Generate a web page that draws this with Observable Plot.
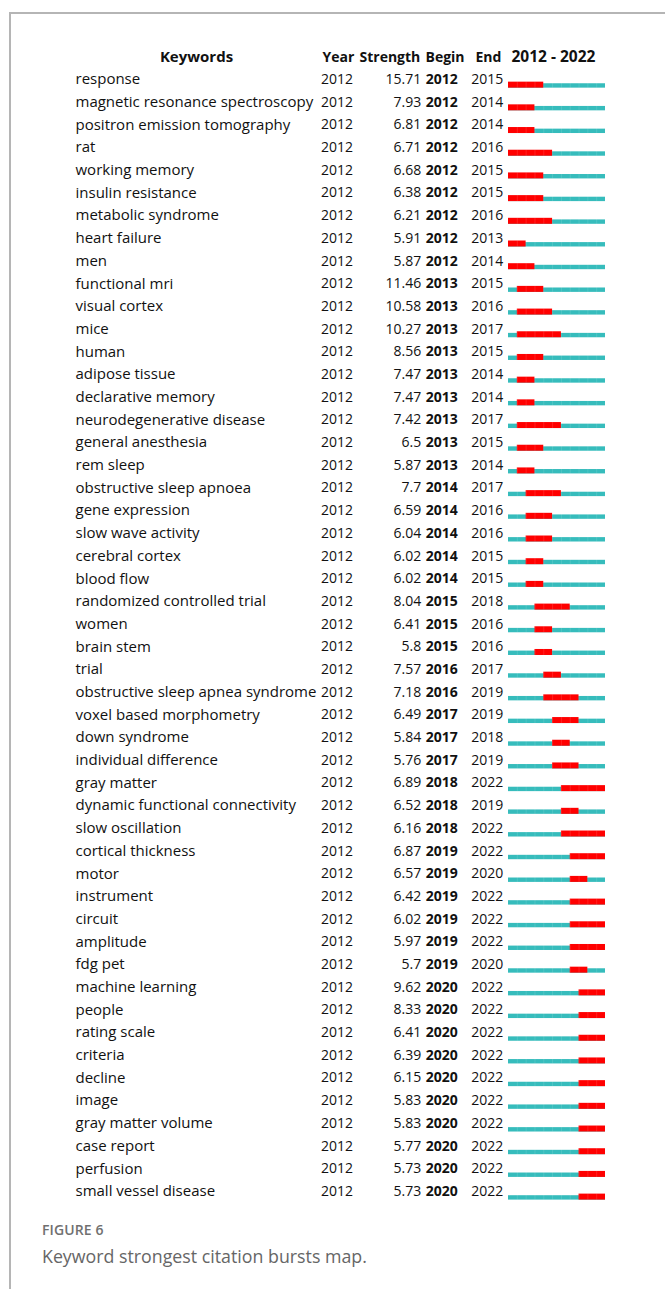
<!DOCTYPE html>
<html><head><meta charset="utf-8">
<script src="https://cdn.jsdelivr.net/npm/d3@7"></script>
<script src="https://cdn.jsdelivr.net/npm/@observablehq/plot@0.6"></script>
<style>
body{margin:0;background:#fff;width:665px;height:1289px;position:relative;overflow:hidden;font-family:"Open Sans",sans-serif}
#frame{position:absolute;left:9px;top:12px;right:0;bottom:0;border-left:2px solid #b5b5b5;border-top:2px solid #b5b5b5}
#chart{position:absolute;left:0;top:0}
#fig{position:absolute;left:42px;top:1220px;font-size:14px;color:#707070;font-weight:600;letter-spacing:0.1px}
#cap{position:absolute;left:42px;top:1244px;font-size:17.8px;color:#666}
</style></head>
<body>
<div id="frame"></div>
<div id="chart"></div>
<div id="fig">FIGURE 6</div>
<div id="cap">Keyword strongest citation bursts map.</div>
<script>
const keywords = ["response","magnetic resonance spectroscopy","positron emission tomography","rat","working memory","insulin resistance","metabolic syndrome","heart failure","men","functional mri","visual cortex","mice","human","adipose tissue","declarative memory","neurodegenerative disease","general anesthesia","rem sleep","obstructive sleep apnoea","gene expression","slow wave activity","cerebral cortex","blood flow","randomized controlled trial","women","brain stem","trial","obstructive sleep apnea syndrome","voxel based morphometry","down syndrome","individual difference","gray matter","dynamic functional connectivity","slow oscillation","cortical thickness","motor","instrument","circuit","amplitude","fdg pet","machine learning","people","rating scale","criteria","decline","image","gray matter volume","case report","perfusion","small vessel disease"];
const strength = [15.71,7.93,6.81,6.71,6.68,6.38,6.21,5.91,5.87,11.46,10.58,10.27,8.56,7.47,7.47,7.42,6.5,5.87,7.7,6.59,6.04,6.02,6.02,8.04,6.41,5.8,7.57,7.18,6.49,5.84,5.76,6.89,6.52,6.16,6.87,6.57,6.42,6.02,5.97,5.7,9.62,8.33,6.41,6.39,6.15,5.83,5.83,5.77,5.73,5.73];
const begin = [2012,2012,2012,2012,2012,2012,2012,2012,2012,2013,2013,2013,2013,2013,2013,2013,2013,2013,2014,2014,2014,2014,2014,2015,2015,2015,2016,2016,2017,2017,2017,2018,2018,2018,2019,2019,2019,2019,2019,2019,2020,2020,2020,2020,2020,2020,2020,2020,2020,2020];
const end = [2015,2014,2014,2016,2015,2015,2016,2013,2014,2015,2016,2017,2015,2014,2014,2017,2015,2014,2017,2016,2016,2015,2015,2018,2016,2016,2017,2019,2019,2018,2019,2022,2019,2022,2022,2020,2022,2022,2022,2020,2022,2022,2022,2022,2022,2022,2022,2022,2022,2022];
const yearCol = "2012";
const rangeStart = 2012, rangeEnd = 2022;
const headers = ["Keywords","Year","Strength","Begin","End","2012 - 2022"];

const rows = keywords.map((k,i)=>({k, s:String(strength[i]), b:begin[i], e:end[i], y:yearCol}));
const cells = [];
rows.forEach(r=>{ for(let yr=rangeStart+1; yr<=rangeEnd; yr++) cells.push({k:r.k, yr}); });

const hdrY = 57 - 67.65;
const hdr = (t, x, anchor, size) => Plot.text([t],{frameAnchor:"top-left", dx:x-508, dy:hdrY, lineAnchor:"middle", textAnchor:anchor, fontWeight:"bold", fontSize:size, fill:"#111"});
const chart = Plot.plot({
  width:665, height:1210,
  marginLeft:508, marginRight:60, marginTop:67.65, marginBottom:7.7,
  x:{domain:[rangeStart, rangeEnd+1], axis:null},
  y:{domain:keywords, axis:null, padding:0},
  style:{fontFamily:"'Open Sans', sans-serif", fontSize:"14px", color:"#111", background:"transparent"},
  marks:[
    Plot.barX(rows,{x1:()=>rangeStart, x2:()=>rangeEnd+1, y:"k", fill:"#36bcbc", insetTop:15.6, insetBottom:2.7}),
    Plot.barX(rows,{x1:"b", x2:d=>d.e+1, y:"k", fill:"#ff0000", insetTop:14, insetBottom:2.7}),
    Plot.tickX(cells,{x:"yr", y:"k", stroke:"#ffffff", strokeOpacity:0.12, strokeWidth:1, insetTop:14, insetBottom:2.7}),
    Plot.text(rows,{y:"k", text:"k", frameAnchor:"left", dx:-433, textAnchor:"start", fontSize:15, fill:"#111"}),
    Plot.text(rows,{y:"k", text:"y", frameAnchor:"left", dx:-187.5, textAnchor:"start", fill:"#111"}),
    Plot.text(rows,{y:"k", text:"s", frameAnchor:"left", dx:-87.3, textAnchor:"end", fill:"#111"}),
    Plot.text(rows,{y:"k", text:d=>String(d.b), frameAnchor:"left", dx:-82.7, textAnchor:"start", fontWeight:"bold", fill:"#111"}),
    Plot.text(rows,{y:"k", text:d=>String(d.e), frameAnchor:"left", dx:-37.3, textAnchor:"start", fill:"#111"}),
    hdr(headers[0], 196, "middle", 15),
    hdr(headers[1], 322, "start", 14),
    hdr(headers[2], 359, "start", 14),
    hdr(headers[3], 425, "start", 14),
    hdr(headers[4], 475, "start", 14),
    hdr(headers[5], 511, "start", 15.5)
  ]
});
document.getElementById("chart").appendChild(chart);
</script>
</body></html>
